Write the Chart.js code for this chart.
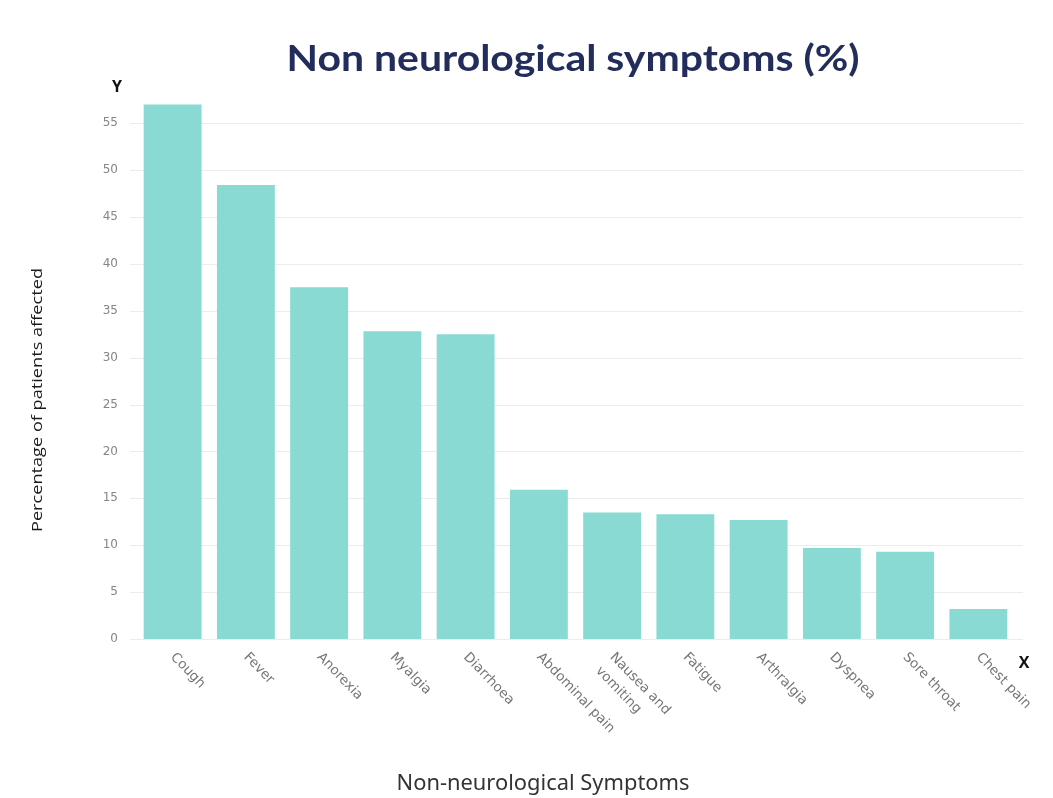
<!DOCTYPE html>
<html>
<head>
<meta charset="utf-8">
<script src="https://cdn.jsdelivr.net/npm/chart.js@4.4.1/dist/chart.umd.min.js"></script>
<style>
  html, body { margin: 0; padding: 0; background: #ffffff; }
  #wrap { width: 1053px; height: 798px; position: relative; }
</style>
</head>
<body>
<div id="wrap"><canvas id="c" width="1053" height="798"></canvas></div>
<script>
const categories = ["Cough", "Fever", "Anorexia", "Myalgia", "Diarrhoea", "Abdominal pain",
  ["Nausea and", "vomiting"], "Fatigue", "Arthralgia", "Dyspnea", "Sore throat", "Chest pain"];
const percentages = [57.0, 48.4, 37.5, 32.8, 32.5, 15.9, 13.5, 13.3, 12.7, 9.7, 9.3, 3.2];
const yTickValues = [0, 5, 10, 15, 20, 25, 30, 35, 40, 45, 50, 55];

const chartTitle = "Non neurological symptoms (%)";
const xTitle = "Non-neurological Symptoms";
const yTitle = "Percentage of patients affected";

const extras = {
  id: 'extras',
  beforeDatasetsDraw(chart) {
    const ctx = chart.ctx;
    const y = chart.scales.y;
    ctx.save();
    ctx.strokeStyle = '#ececec';
    ctx.lineWidth = 1.2;
    yTickValues.forEach(v => {
      const py = Math.round(y.getPixelForValue(v)) + 0.5;
      ctx.beginPath();
      ctx.moveTo(130, py);
      ctx.lineTo(1023, py);
      ctx.stroke();
    });
    ctx.restore();
  },
  afterDraw(chart) {
    const ctx = chart.ctx;
    const x = chart.scales.x;
    ctx.save();
    // x tick labels, rotated clockwise
    ctx.fillStyle = '#767676';
    ctx.font = '13.5px "DejaVu Sans", sans-serif';
    ctx.textAlign = 'left';
    ctx.textBaseline = 'middle';
    const ang = 46 * Math.PI / 180;
    categories.forEach((lab, i) => {
      const cx = x.getPixelForValue(i);
      const lines = Array.isArray(lab) ? lab : [lab];
      ctx.save();
      ctx.translate(cx, 655);
      ctx.rotate(ang);
      lines.forEach((ln, k) => {
        ctx.fillText(ln, 0, k * 20);
      });
      ctx.restore();
    });

    // Main title
    ctx.fillStyle = '#222d5c';
    ctx.font = 'bold 36px Lato, "Open Sans", sans-serif';
    ctx.textAlign = 'center';
    ctx.textBaseline = 'alphabetic';
    let w = ctx.measureText(chartTitle).width;
    ctx.save();
    ctx.translate(573, 71);
    ctx.scale(573 / w, 1);
    ctx.fillText(chartTitle, 0, 0);
    ctx.restore();

    // Y and X markers
    ctx.fillStyle = '#111111';
    ctx.font = 'bold 16px "Open Sans", sans-serif';
    ctx.fillText('Y', 117, 92);
    ctx.fillText('X', 1024, 668);

    // x axis title
    ctx.fillStyle = '#333333';
    ctx.font = '21px "Noto Sans", sans-serif';
    w = ctx.measureText(xTitle).width;
    ctx.save();
    ctx.translate(543, 790);
    ctx.scale(293 / w, 1);
    ctx.fillText(xTitle, 0, 0);
    ctx.restore();

    // y axis title
    ctx.fillStyle = '#1a1a1a';
    ctx.font = '14px "Open Sans", sans-serif';
    w = ctx.measureText(yTitle).width;
    ctx.save();
    ctx.translate(42, 400);
    ctx.rotate(-Math.PI / 2);
    ctx.scale(264 / w, 1);
    ctx.fillText(yTitle, 0, 0);
    ctx.restore();

    ctx.restore();
  }
};

new Chart(document.getElementById('c'), {
  type: 'bar',
  data: {
    labels: categories,
    datasets: [{
      data: percentages,
      backgroundColor: '#88dad3',
      borderWidth: 0,
      barPercentage: 0.79,
      categoryPercentage: 1.0
    }]
  },
  options: {
    responsive: false,
    animation: false,
    devicePixelRatio: 1,
    layout: { padding: { top: 95, right: 38, bottom: 151, left: 0 } },
    plugins: { legend: { display: false }, tooltip: { enabled: false }, title: { display: false } },
    scales: {
      x: {
        grid: { display: false },
        border: { display: false },
        ticks: { display: false }
      },
      y: {
        min: 0,
        max: 58,
        afterFit(scale) { scale.width = 136; },
        afterBuildTicks(scale) {
          scale.ticks = yTickValues.map(v => ({ value: v }));
        },
        grid: { display: false, drawTicks: false },
        border: { display: false },
        ticks: {
          padding: 18,
          color: '#858585',
          font: { family: '"DejaVu Sans", sans-serif', size: 12 }
        }
      }
    }
  },
  plugins: [extras]
});
</script>
</body>
</html>
